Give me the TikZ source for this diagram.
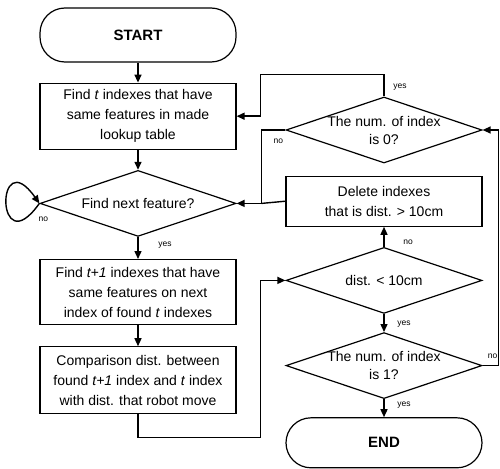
\documentclass[tikz,border=0pt]{standalone}
\usepackage{fontspec}
\setmainfont{Liberation Sans}
\usetikzlibrary{arrows.meta,positioning,shapes.geometric}

\begin{document}
\begin{tikzpicture}[
    x=1pt, y=1pt,
    >={Triangle[length=8pt,width=7pt]},
    box/.style={draw, line width=1.2pt, minimum width=196pt, minimum height=#1,
                inner sep=2pt, align=center, font=\fontsize{14}{20}\selectfont},
    box/.default=64pt,
    term/.style={box=#1, rounded corners=25pt, font=\fontsize{15}{18}\selectfont\bfseries},
    term/.default=52pt,
    test/.style={draw, diamond, aspect=3, line width=1.2pt, inner sep=0pt,
                 minimum width=196pt, minimum height=66pt},
    ttxt/.style={align=center, font=\fontsize{14}{18}\selectfont},
    lbl/.style={font=\fontsize{8.5}{10}\selectfont},
    arr/.style={->, line width=1.4pt},
  ]
  \useasboundingbox (0,0) rectangle (500,-468);

  % Left column
  \node[term=54pt] (start) at (138,-35) {START};
  \node[box=66pt, below=20pt of start] (find)
    {Find \textit{t} indexes that have\\same features in made\\lookup table};
  \node[test, below=20pt of find, label={[ttxt]center:Find next feature?}] (next) {};
  \node[box=65pt, below=22pt of next] (tone)
    {Find \textit{t+1} indexes that have\\same features on next\\index of found \textit{t} indexes};
  \node[box=67pt, below=21pt of tone] (cmp)
    {Comparison dist. between\\found \textit{t+1} index and \textit{t} index\\with dist. that robot move};

  % Right column
  \node[test, label={[ttxt]center:The num. of index\\is 0?}] (zero) at (384,-130) {};
  \node[box=50pt, below=12pt of zero] (del)
    {Delete indexes\\that is dist. > 10cm};
  \node[test, below=20pt of del, label={[ttxt]center:dist. < 10cm}] (dist) {};
  \node[test, below=18pt of dist, label={[ttxt]center:The num. of index\\is 1?}] (one) {};
  \node[term=50pt, below=18pt of one] (end) {END};

  % Connectors
  \draw[arr] (start) -- (find);
  \draw[arr] (find) -- (next);
  \draw[arr] (next.west) .. controls +(-44,-62) and +(-44,62) .. (next.west);
  \node[lbl] (nextno) at ([xshift=4pt,yshift=-16pt]next.west) {no};
  \draw[arr] (next) -- (tone);
  \node[lbl] (nextyes) at ([xshift=27pt,yshift=-8pt]next.south) {yes};
  \draw[arr] (tone) -- (cmp);
  \draw[arr] (cmp.south) -- ++(0,-23) -| ([xshift=-25pt]dist.west) -- (dist.west);

  \draw[arr] (zero.north) -- ++(0,22) -| ([xshift=24pt]find.east) -- (find.east);
  \node[lbl] (zeroyes) at ([xshift=16pt,yshift=9pt]zero.north) {yes};
  \draw[arr] (zero.west) -| ([xshift=25pt]next.east) -- (next.east);
  \node[lbl] (zerono) at ([xshift=-7pt,yshift=-11pt]zero.west) {no};
  \draw[line width=1.4pt] (del.west) -- ([xshift=25pt]next.east);

  \draw[arr] (dist) -- (del);
  \node[lbl] (distno) at ([xshift=24pt,yshift=5pt]dist.north) {no};
  \draw[arr] (dist) -- (one);
  \node[lbl] (distyes) at ([xshift=20pt,yshift=-10pt]dist.south) {yes};
  \draw[arr] (one.east) -- ++(16,0) |- (zero.east);
  \node[lbl] (oneno) at ([xshift=10pt,yshift=9pt]one.east) {no};
  \draw[arr] (one) -- (end);
  \node[lbl] (oneyes) at ([xshift=20pt,yshift=-6pt]one.south) {yes};
\end{tikzpicture}
\end{document}
